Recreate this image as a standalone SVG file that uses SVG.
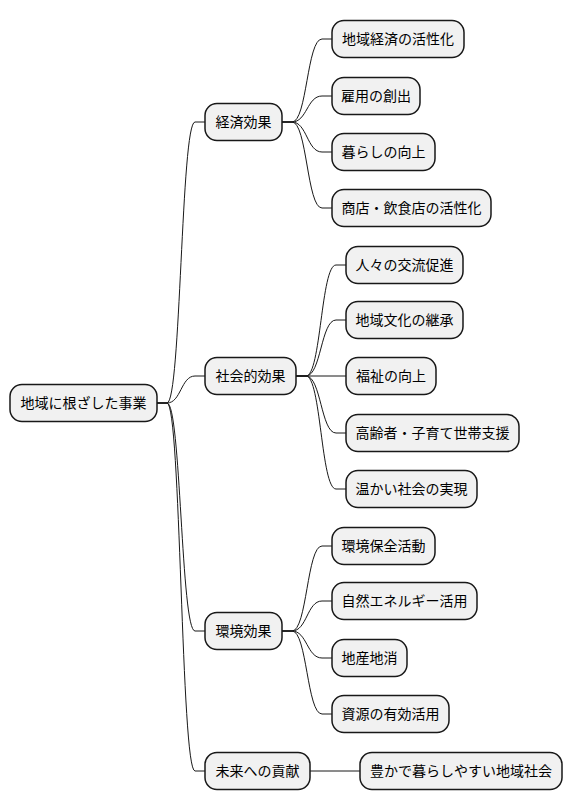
<svg xmlns="http://www.w3.org/2000/svg" width="572" height="809" viewBox="0 0 572 809">
<style>
.n rect{fill:#F1F1F1;stroke:#181818;stroke-width:1.5}
.n text{font-family:"Noto Sans CJK JP","Noto Sans CJK SC",sans-serif;font-size:14px;fill:#000}
#edges path{fill:none;stroke:#181818;stroke-width:1}
</style>
<rect width="572" height="809" fill="#FFFFFF"/>
<g id="edges">
<path d="M157,403 L167,403 C181,403 181,122 195,122 L205,122"/>
<path d="M157,403 L167,403 C181,403 181,376 195,376 L205,376"/>
<path d="M157,403 L167,403 C181,403 181,631 195,631 L205,631"/>
<path d="M157,403 L167,403 C181,403 181,771 195,771 L205,771"/>
<path d="M282,122 L292,122 C307,122 307,39 322,39 L332,39"/>
<path d="M282,122 L292,122 C307,122 307,96 322,96 L332,96"/>
<path d="M282,122 L292,122 C307,122 307,152 322,152 L332,152"/>
<path d="M282,122 L292,122 C307,122 307,208 322,208 L332,208"/>
<path d="M296,376 L306,376 C321,376 321,265 336,265 L346,265"/>
<path d="M296,376 L306,376 C321,376 321,320 336,320 L346,320"/>
<path d="M296,376 L346,376"/>
<path d="M296,376 L306,376 C321,376 321,433 336,433 L346,433"/>
<path d="M296,376 L306,376 C321,376 321,489 336,489 L346,489"/>
<path d="M282,631 L292,631 C307,631 307,546 322,546 L332,546"/>
<path d="M282,631 L292,631 C307,631 307,601 322,601 L332,601"/>
<path d="M282,631 L292,631 C307,631 307,658 322,658 L332,658"/>
<path d="M282,631 L292,631 C307,631 307,714 322,714 L332,714"/>
<path d="M310,771 L360,771"/>
</g>
<g id="root" class="n"><rect x="10" y="384.5" width="147" height="37" rx="12"/><text x="83.5" y="408" text-anchor="middle">地域に根ざした事業</text></g>
<g id="keizai" class="n"><rect x="205" y="103.5" width="77" height="37" rx="12"/><text x="243.5" y="127" text-anchor="middle">経済効果</text></g>
<g id="shakai" class="n"><rect x="205" y="357.5" width="91" height="37" rx="12"/><text x="250.5" y="381" text-anchor="middle">社会的効果</text></g>
<g id="kankyo" class="n"><rect x="205" y="612.5" width="77" height="37" rx="12"/><text x="243.5" y="636" text-anchor="middle">環境効果</text></g>
<g id="mirai" class="n"><rect x="205" y="752.5" width="105" height="37" rx="12"/><text x="257.5" y="776" text-anchor="middle">未来への貢献</text></g>
<g id="k1" class="n"><rect x="332" y="20.5" width="132" height="37" rx="12"/><text x="398" y="44" text-anchor="middle">地域経済の活性化</text></g>
<g id="k2" class="n"><rect x="332" y="77.5" width="88" height="37" rx="12"/><text x="376" y="101" text-anchor="middle">雇用の創出</text></g>
<g id="k3" class="n"><rect x="332" y="133.5" width="103" height="37" rx="12"/><text x="383.5" y="157" text-anchor="middle">暮らしの向上</text></g>
<g id="k4" class="n"><rect x="332" y="189.5" width="159" height="37" rx="12"/><text x="411.5" y="213" text-anchor="middle">商店・飲食店の活性化</text></g>
<g id="s1" class="n"><rect x="346" y="246.5" width="117" height="37" rx="12"/><text x="404.5" y="270" text-anchor="middle">人々の交流促進</text></g>
<g id="s2" class="n"><rect x="346" y="301.5" width="117" height="37" rx="12"/><text x="404.5" y="325" text-anchor="middle">地域文化の継承</text></g>
<g id="s3" class="n"><rect x="346" y="357.5" width="90" height="37" rx="12"/><text x="391" y="381" text-anchor="middle">福祉の向上</text></g>
<g id="s4" class="n"><rect x="346" y="414.5" width="173" height="37" rx="12"/><text x="432.5" y="438" text-anchor="middle">高齢者・子育て世帯支援</text></g>
<g id="s5" class="n"><rect x="346" y="470.5" width="131" height="37" rx="12"/><text x="411.5" y="494" text-anchor="middle">温かい社会の実現</text></g>
<g id="e1" class="n"><rect x="332" y="527.5" width="103" height="37" rx="12"/><text x="383.5" y="551" text-anchor="middle">環境保全活動</text></g>
<g id="e2" class="n"><rect x="332" y="582.5" width="145" height="37" rx="12"/><text x="404.5" y="606" text-anchor="middle">自然エネルギー活用</text></g>
<g id="e3" class="n"><rect x="332" y="639.5" width="75" height="37" rx="12"/><text x="369.5" y="663" text-anchor="middle">地産地消</text></g>
<g id="e4" class="n"><rect x="332" y="695.5" width="117" height="37" rx="12"/><text x="390.5" y="719" text-anchor="middle">資源の有効活用</text></g>
<g id="m1" class="n"><rect x="360" y="752.5" width="202" height="37" rx="12"/><text x="461" y="776" text-anchor="middle">豊かで暮らしやすい地域社会</text></g>
</svg>
